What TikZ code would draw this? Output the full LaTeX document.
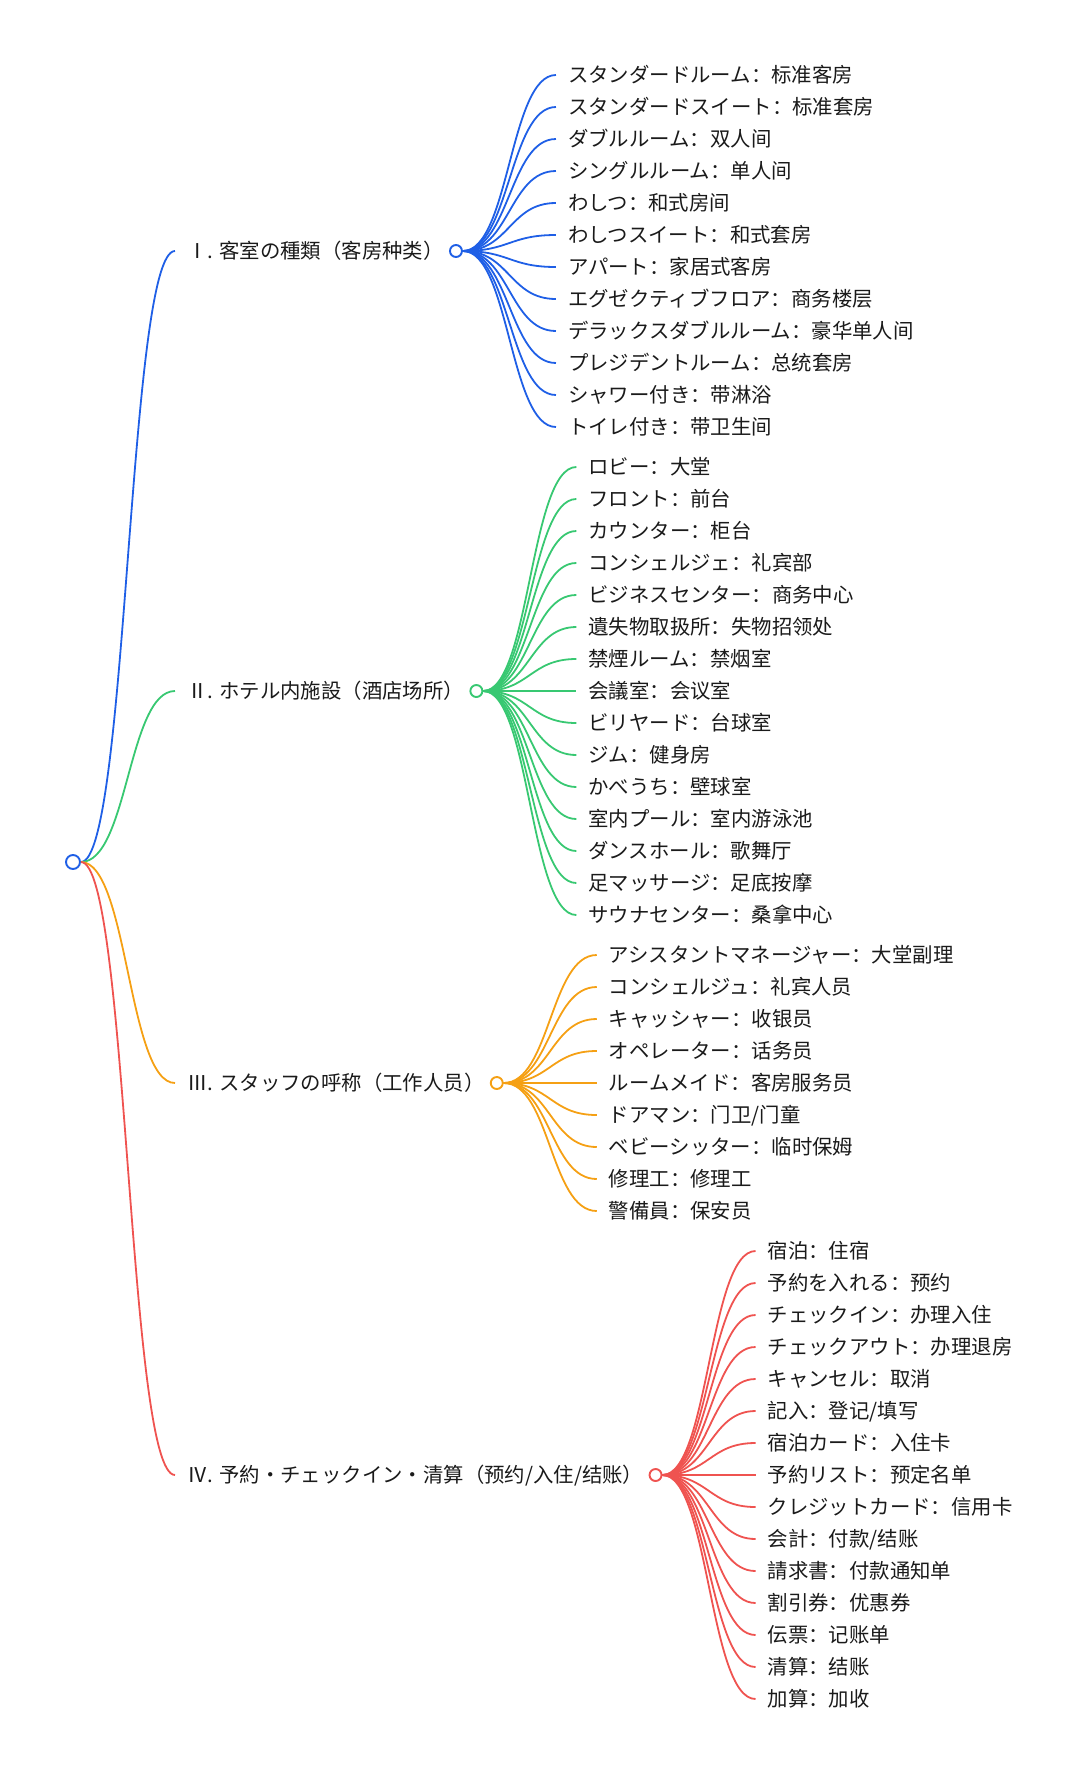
\documentclass[tikz,border=0pt]{standalone}
\usepackage{fontspec}
\setmainfont{Noto Sans CJK SC}
\usepackage{tikz}
\usetikzlibrary{calc}
\definecolor{Blue}{HTML}{1F5FE6}
\definecolor{Green}{HTML}{38C872}
\definecolor{Orange}{HTML}{F5A014}
\definecolor{Red}{HTML}{EF5350}
\definecolor{Ink}{HTML}{1A1A1A}
\newcommand{\mlink}[3]{%
  \path coordinate (m) at ($(#2)!0.5!(#3)$);
  \draw[link=#1] (#2) .. controls (m |- #2) and (m |- #3) .. (#3);}

\begin{document}
\begin{tikzpicture}[x=1pt,y=-1pt,
  hub/.style={circle,draw=#1,fill=white,line width=1.9pt,inner sep=0pt,minimum size=12pt},
  topic/.style={anchor=west,inner xsep=12pt,inner ysep=0pt,text height=17pt,text depth=3pt,text=Ink,font=\fontsize{20.4}{24}\selectfont},
  link/.style={draw=#1,line width=1.8pt}]
  \useasboundingbox (0,0) rectangle (1080,1773);

  \node[hub=Blue,minimum size=14pt] (root) at (73,862) {};
  \node[topic] (b1) at (175,251) {Ⅰ. 客室の種類（客房种类）};
  \node[topic] (b2) at (175,691) {Ⅱ. ホテル内施設（酒店场所）};
  \node[topic] (b3) at (175,1083) {Ⅲ. スタッフの呼称（工作人员）};
  \node[topic] (b4) at (175,1475) {Ⅳ. 予約・チェックイン・清算（预约/入住/结账）};
  \node[hub=Blue] (c1) at (b1.east) {};
  \node[hub=Green] (c2) at (b2.east) {};
  \node[hub=Orange] (c3) at (b3.east) {};
  \node[hub=Red] (c4) at (b4.east) {};

  \mlink{Blue}{root.east}{b1.west}
  \mlink{Green}{root.east}{b2.west}
  \mlink{Orange}{root.east}{b3.west}
  \mlink{Red}{root.east}{b4.west}

  \foreach \t [count=\i] in {スタンダードルーム：标准客房,スタンダードスイート：标准套房,ダブルルーム：双人间,シングルルーム：单人间,わしつ：和式房间,わしつスイート：和式套房,アパート：家居式客房,エグゼクティブフロア：商务楼层,デラックスダブルルーム：豪华单人间,プレジデントルーム：总统套房,シャワー付き：带淋浴,トイレ付き：带卫生间} {
    \node[topic] (r\i) at ($(c1)+(100,{(\i-6.5)*32})$) {\t};
    \mlink{Blue}{c1.east}{r\i.west}
  }
  \foreach \t [count=\i] in {ロビー：大堂,フロント：前台,カウンター：柜台,コンシェルジェ：礼宾部,ビジネスセンター：商务中心,遺失物取扱所：失物招领处,禁煙ルーム：禁烟室,会議室：会议室,ビリヤード：台球室,ジム：健身房,かべうち：壁球室,室内プール：室内游泳池,ダンスホール：歌舞厅,足マッサージ：足底按摩,サウナセンター：桑拿中心} {
    \node[topic] (f\i) at ($(c2)+(100,{(\i-8)*32})$) {\t};
    \mlink{Green}{c2.east}{f\i.west}
  }
  \foreach \t [count=\i] in {アシスタントマネージャー：大堂副理,コンシェルジュ：礼宾人员,キャッシャー：收银员,オペレーター：话务员,ルームメイド：客房服务员,ドアマン：门卫/门童,ベビーシッター：临时保姆,修理工：修理工,警備員：保安员} {
    \node[topic] (s\i) at ($(c3)+(100,{(\i-5)*32})$) {\t};
    \mlink{Orange}{c3.east}{s\i.west}
  }
  \foreach \t [count=\i] in {宿泊：住宿,予約を入れる：预约,チェックイン：办理入住,チェックアウト：办理退房,キャンセル：取消,記入：登记/填写,宿泊カード：入住卡,予約リスト：预定名单,クレジットカード：信用卡,会計：付款/结账,請求書：付款通知单,割引券：优惠券,伝票：记账单,清算：结账,加算：加收} {
    \node[topic] (p\i) at ($(c4)+(100,{(\i-8)*32})$) {\t};
    \mlink{Red}{c4.east}{p\i.west}
  }
\end{tikzpicture}
\end{document}
